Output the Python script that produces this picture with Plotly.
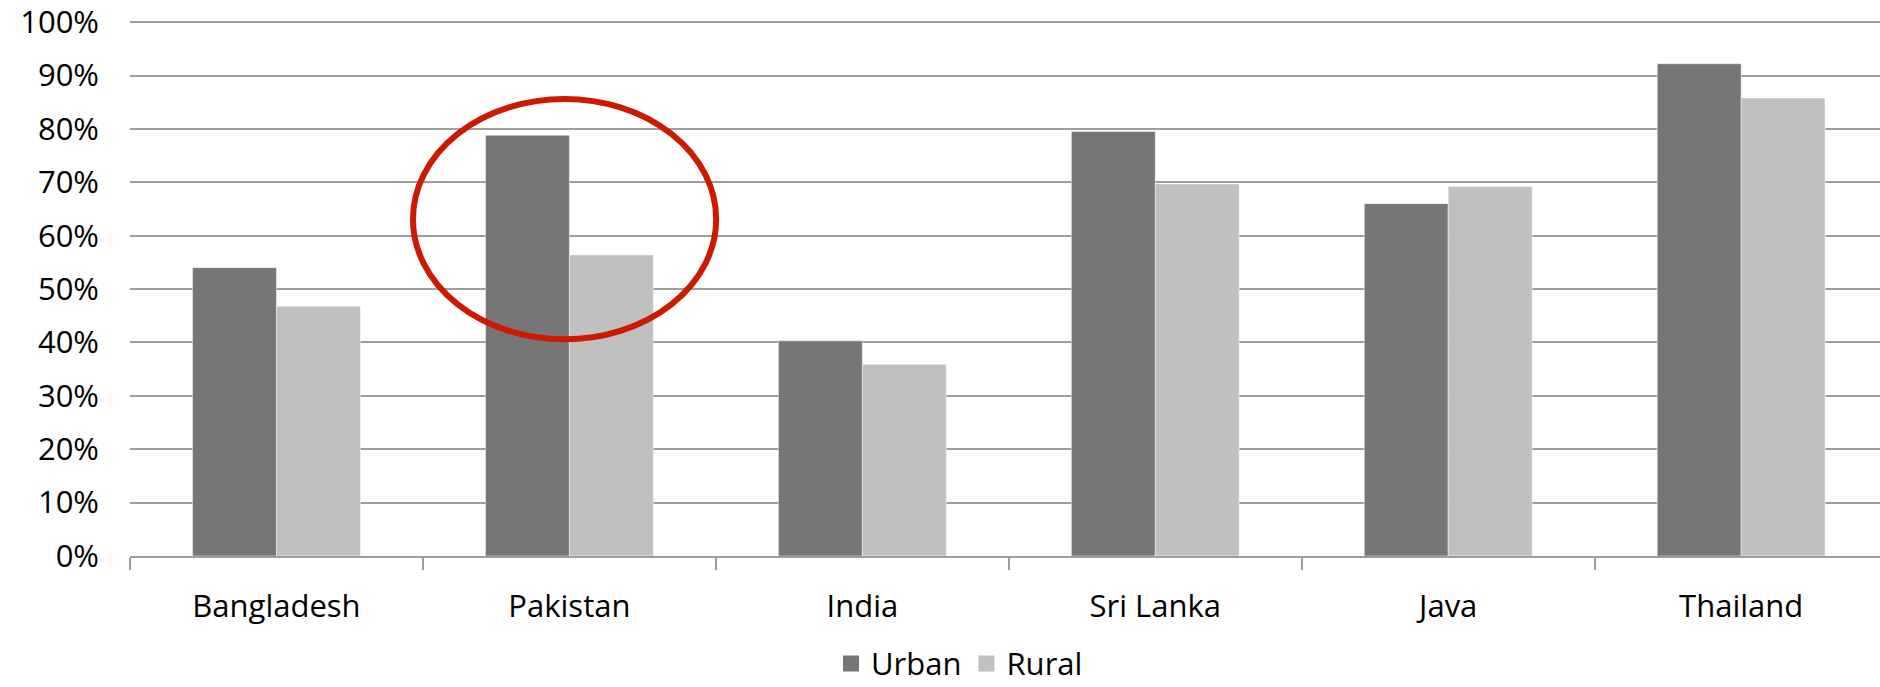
import plotly.graph_objects as go

categories = ["Bangladesh", "Pakistan", "India", "Sri Lanka", "Java", "Thailand"]
urban = [0.540, 0.788, 0.403, 0.795, 0.660, 0.922]
rural = [0.468, 0.564, 0.359, 0.697, 0.692, 0.858]
y_ticks = [0, 0.1, 0.2, 0.3, 0.4, 0.5, 0.6, 0.7, 0.8, 0.9, 1.0]
y_tick_labels = ["0%", "10%", "20%", "30%", "40%", "50%", "60%", "70%", "80%", "90%", "100%"]

FONT = "Open Sans"
GRID = "#9E9E9E"
URBAN_C = "#767676"
RURAL_C = "#C0C0C0"

fig = go.Figure()
fig.add_trace(go.Bar(name="Urban", x=categories, y=urban, showlegend=False,
                     marker=dict(color=URBAN_C, line=dict(color="rgba(255,255,255,0.45)", width=1))))
fig.add_trace(go.Bar(name="Rural", x=categories, y=rural, showlegend=False,
                     marker=dict(color=RURAL_C, line=dict(color="rgba(255,255,255,0.45)", width=1))))
# legend entries with larger square swatches
fig.add_trace(go.Scatter(name="Urban", x=[None], y=[None], mode="markers",
                         marker=dict(symbol="square", size=16, color=URBAN_C), hoverinfo="skip"))
fig.add_trace(go.Scatter(name="Rural", x=[None], y=[None], mode="markers",
                         marker=dict(symbol="square", size=16, color=RURAL_C), hoverinfo="skip"))

# highlight ellipse around Pakistan
fig.add_shape(type="circle", xref="x", yref="y",
              x0=0.466, x1=1.501, y0=0.406, y1=0.856,
              line=dict(color="#CC1A00", width=6), layer="above")

fig.update_layout(
    width=1880, height=687,
    margin=dict(l=130, r=0, t=19.5, b=131, autoexpand=False),
    paper_bgcolor="white", plot_bgcolor="white",
    barmode="group", bargap=0.427, bargroupgap=0,
    font=dict(family=FONT, size=31, color="black"),
    showlegend=True,
    legend=dict(orientation="h", x=0.474, xanchor="center", y=-0.201, yanchor="middle",
                font=dict(family=FONT, size=31, color="black"),
                itemsizing="trace", itemwidth=30, tracegroupgap=0, bgcolor="rgba(0,0,0,0)"),
)
fig.update_xaxes(
    type="category", range=[-0.5, 5.474], automargin=False,
    showgrid=False, showline=True, linecolor=GRID, linewidth=2,
    ticks="outside", tickson="boundaries", ticklen=12, tickcolor=GRID, tickwidth=1.5,
    ticklabelstandoff=22,
    tickfont=dict(family=FONT, size=31, color="black"),
    fixedrange=True,
)
fig.update_yaxes(
    range=[0, 1.004], tickvals=y_ticks, ticktext=y_tick_labels, automargin=False,
    showgrid=True, gridcolor=GRID, gridwidth=2,
    showline=False, zeroline=False, ticks="",
    ticklabelstandoff=30, ticklabeloverflow="allow",
    tickfont=dict(family=FONT, size=31, color="black"),
    fixedrange=True,
)

fig.write_html("out.html", config={"displayModeBar": False})
